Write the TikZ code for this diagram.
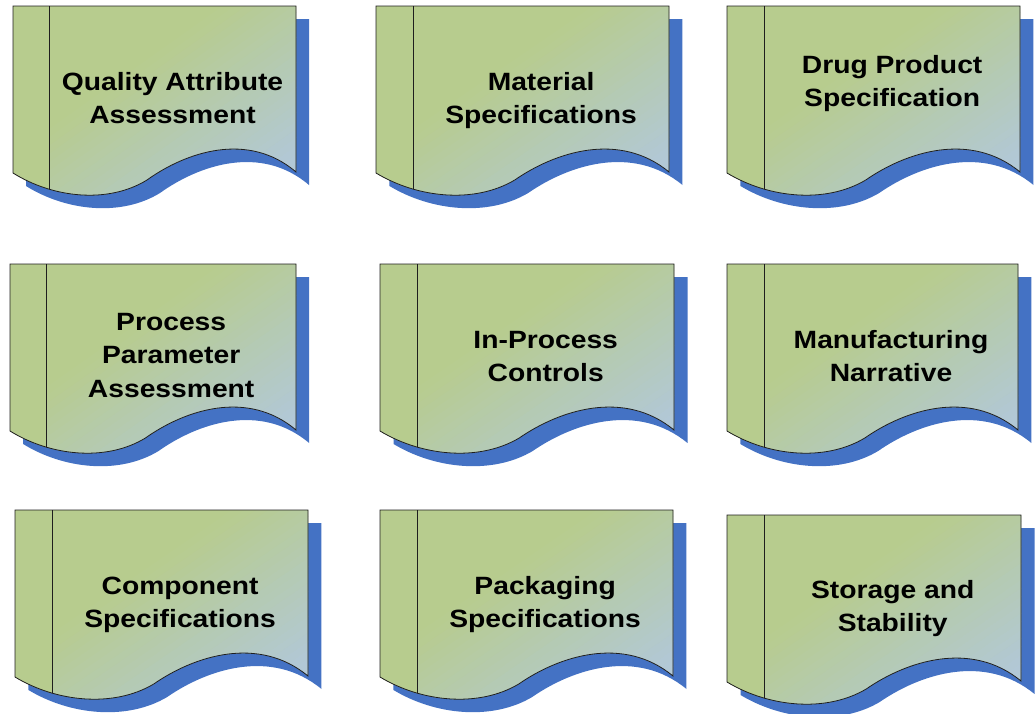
\documentclass[tikz,border=0pt]{standalone}
\usepackage{fontspec}
\newfontfamily\lblfont[FakeStretch=1.13]{Liberation Sans}
\definecolor{shb}{RGB}{68,114,196}
\definecolor{gtop}{RGB}{183,204,142}
\definecolor{gbot}{RGB}{178,200,214}
\definecolor{edge}{RGB}{30,30,30}
\newcommand\lstrut{\rule[-10pt]{0pt}{33.5pt}}
\tikzset{
  docoutline/.style={insert path={(0,0) -- (283,0) -- (283,166) .. controls (235,125) and (173,146) .. (134,174) .. controls (95,198) and (40,192) .. (0,167) -- cycle}},
  docshadow/.style={fill=shb},
  docline/.style={draw=edge, line width=0.8pt},
  lbl/.style={align=center, text=black, font=\lblfont\bfseries\fontsize{25}{33.5}\selectfont, inner sep=0pt}
}
\newcommand\docbox[6]{%
  \begin{scope}[shift={(#2,#3)}, xscale=#4/283]
    \fill[docshadow, shift={(13,13)}, docoutline];
    \begin{scope}
      \clip[docoutline];
      \fill[gtop] (-2,-2) rectangle (290,200);
      \foreach \i in {0,...,29}{%
        \pgfmathsetmacro\ca{0.75+\i/24}%
        \pgfmathsetmacro\cb{0.75+(\i+1.05)/24}%
        \pgfmathtruncatemacro\pp{min(100,(\i+0.5)*100/24)}%
        \fill[gbot!\pp!gtop] (283*\ca,-2) -- (283*\cb,-2) -- (-2,200*\cb) -- (-2,200*\ca) -- cycle;
      }
      \fill[gtop] (0,-2) rectangle (36,200);
      \draw[docline] (36,0) -- (36,200);
    \end{scope}
    \draw[docline, docoutline];
  \end{scope}
  \node[lbl] (#1) at ({#2+#4*(159.5/283)}, {#3+#5}) {#6};
}
\begin{document}
\begin{tikzpicture}[x=1pt, y=-1pt]
\useasboundingbox (0,0) rectangle (1035,713);
\docbox{qaa}{13}{6}{283}{94}{\lstrut Quality Attribute\\\lstrut Assessment}
\docbox{ms}{376}{6}{293}{94}{\lstrut Material\\\lstrut Specifications}
\docbox{dps}{727}{6}{293}{77}{\lstrut Drug Product\\\lstrut Specification}
\docbox{ppa}{10}{264}{286}{93}{\lstrut Process\\\lstrut Parameter\\\lstrut Assessment}
\docbox{ipc}{380}{264}{294}{94}{\lstrut In-Process\\\lstrut Controls}
\docbox{mn}{727}{264}{291}{94}{\lstrut Manufacturing\\\lstrut Narrative}
\docbox{cs}{15}{510}{293}{94}{\lstrut Component\\\lstrut Specifications}
\docbox{ps}{380}{510}{293}{94}{\lstrut Packaging\\\lstrut Specifications}
\docbox{sas}{727}{515}{294}{93}{\lstrut Storage and\\\lstrut Stability}
\end{tikzpicture}
\end{document}
